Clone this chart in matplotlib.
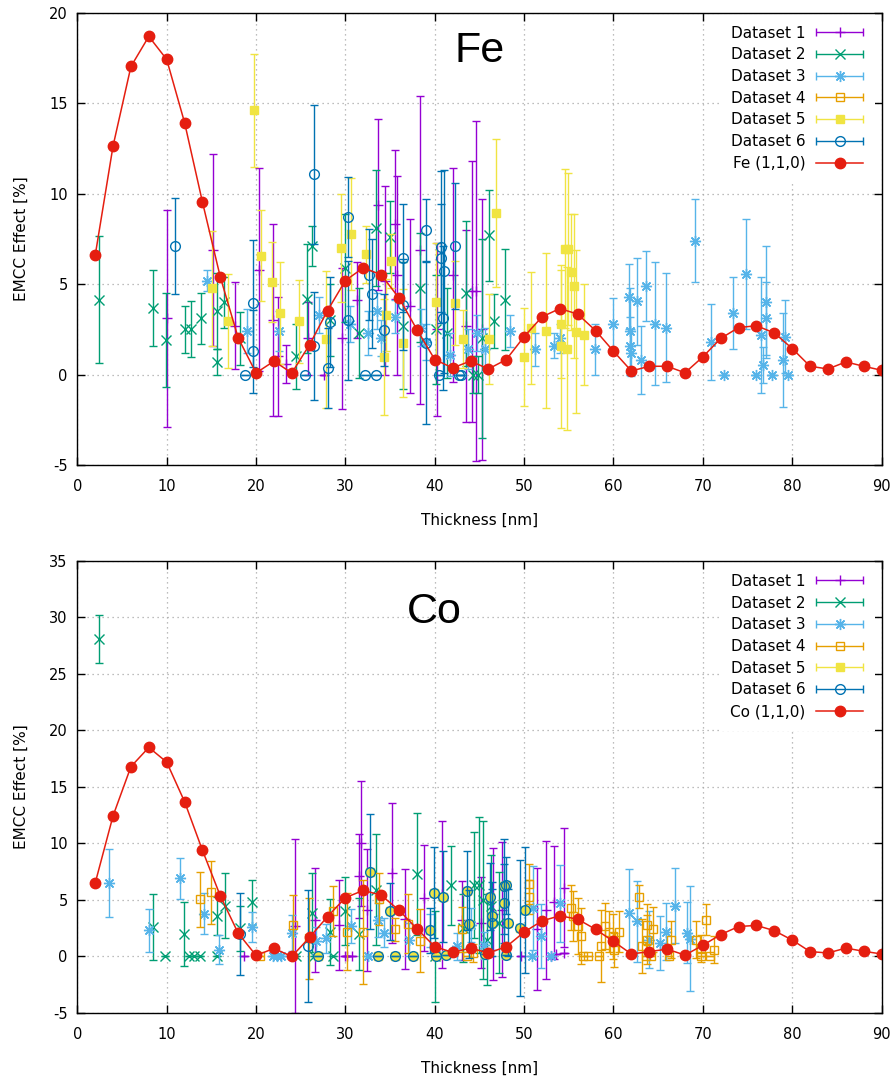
import numpy as np
import matplotlib
matplotlib.use("Agg")
import matplotlib.pyplot as plt
from matplotlib.container import ErrorbarContainer
from matplotlib.legend_handler import HandlerErrorbar

plt.rcParams['font.family'] = ['DejaVu Sans']
plt.rcParams['axes.unicode_minus'] = False

# ---------------- data ----------------
curve_x = [2, 4, 6, 8, 10, 12, 14, 16, 18, 20, 22, 24, 26, 28, 30, 32, 34, 36, 38, 40,
           42, 44, 46, 48, 50, 52, 54, 56, 58, 60, 62, 64, 66, 68, 70, 72, 74, 76, 78, 80,
           82, 84, 86, 88, 90]
fe_curve = [6.59, 12.64, 17.03, 18.69, 17.42, 13.93, 9.54, 5.39, 2.03, 0.09, 0.74, 0.09, 1.66,
            3.54, 5.2, 5.9, 5.52, 4.23, 2.49, 0.83, 0.37, 0.75, 0.31, 0.83, 2.1, 3.19, 3.65,
            3.34, 2.43, 1.29, 0.2, 0.46, 0.46, 0.1, 0.98, 2.0, 2.6, 2.7, 2.3, 1.44, 0.46,
            0.31, 0.7, 0.46, 0.24]
co_curve = [6.5, 12.45, 16.8, 18.5, 17.2, 13.7, 9.4, 5.36, 2.06, 0.09, 0.71, 0.0, 1.7, 3.53,
            5.2, 5.85, 5.42, 4.09, 2.45, 0.87, 0.36, 0.74, 0.31, 0.86, 2.16, 3.15, 3.6, 3.3,
            2.4, 1.33, 0.22, 0.43, 0.65, 0.12, 0.99, 1.94, 2.65, 2.75, 2.28, 1.45, 0.43, 0.31,
            0.74, 0.46, 0.22]

legend_labels = ["Dataset 1", "Dataset 2", "Dataset 3", "Dataset 4", "Dataset 5", "Dataset 6"]

# Fe panel
fe_d1_x = [10.0, 15.2, 17.7, 20.3, 21.9, 22.5, 23.3, 25.8, 27.6, 29.6, 31.3, 33.6, 34.4, 35.5,
           35.8, 37.2, 38.3, 40.2, 42.0, 43.5, 44.2, 44.6, 45.3]
fe_d1_y = [3.1, 6.9, 2.7, 5.8, 3.0, 1.0, 0.6, 2.0, 0.0, 2.0, 4.1, 9.4, 5.2, 8.3, 5.5, 3.8, 6.9,
           2.5, 5.5, 2.7, 4.6, 4.6, 2.5]
fe_d1_e = [6.0, 5.3, 2.4, 5.6, 5.3, 3.3, 1.05, 2.0, 0.0, 3.9, 2.1, 4.7, 5.2, 4.1, 5.5, 4.8, 8.5,
           4.8, 5.9, 5.3, 7.2, 9.4, 7.2]

fe_d2_x = [2.4, 8.5, 9.9, 12.0, 12.7, 13.8, 15.6, 15.6, 16.4, 18.2, 24.5, 25.7, 26.3, 28.3, 30.0,
           31.5, 33.4, 35.0, 36.5, 38.4, 40.1, 41.4, 43.5, 44.3, 44.8, 45.3, 46.1, 46.6, 47.9]
fe_d2_y = [4.15, 3.7, 1.9, 2.5, 2.5, 3.1, 3.5, 0.7, 4.0, 2.0, 1.0, 4.2, 7.1, 3.0, 5.9, 2.3, 8.1,
           7.6, 2.7, 4.8, 2.5, 2.3, 4.5, 0.0, 0.0, 2.0, 7.7, 2.95, 4.15]
fe_d2_e = [3.5, 2.1, 2.6, 1.3, 1.55, 1.4, 2.1, 0.7, 1.4, 1.45, 1.8, 3.0, 1.1, 2.0, 3.0, 2.5, 3.2,
           2.0, 3.5, 3.0, 3.0, 2.5, 4.0, 1.0, 1.0, 5.5, 2.5, 1.5, 2.8]

fe_d3_x = [14.5, 19.0, 22.6, 27.0, 30.5, 32.5, 33.5, 34.0, 35.5, 38.5, 39.0, 41.7, 43.7, 44.7,
           45.6, 48.4, 51.2, 53.3, 54.0, 57.9, 59.9, 61.7, 61.8, 61.9, 62.0, 62.6, 63.1, 63.6,
           64.7, 65.9, 69.1, 70.9, 72.4, 73.4, 74.8, 75.9, 76.5, 76.7, 77.1, 77.1, 77.7, 79.2,
           79.0, 79.5]
fe_d3_y = [5.2, 2.4, 2.4, 3.3, 2.8, 2.3, 3.5, 2.0, 3.2, 2.6, 1.8, 1.1, 1.4, 2.3, 1.4, 2.4, 1.4,
           1.6, 2.0, 1.4, 2.8, 4.3, 2.4, 1.6, 1.2, 4.05, 0.8, 4.9, 2.8, 2.6, 7.4, 1.8, 0.0, 3.4,
           5.55, 0.0, 2.2, 0.55, 4.0, 3.1, 0.0, 2.1, 0.8, 0.0]
fe_d3_e = [0.6, 1.2, 1.1, 1.0, 1.0, 1.2, 1.0, 1.0, 0.9, 1.0, 1.0, 1.2, 1.1, 1.0, 1.2, 0.9, 0.9,
           0.7, 0.8, 1.4, 1.45, 1.8, 2.4, 1.6, 1.3, 2.4, 1.9, 1.95, 3.4, 3.0, 2.3, 2.1, 0.0, 2.0,
           3.05, 0.0, 3.2, 1.0, 3.1, 2.0, 0.0, 2.0, 2.6, 0.0]

fe_d4_x = []
fe_d4_y = []
fe_d4_e = []

fe_d5_x = [15.1, 16.9, 19.8, 20.5, 21.8, 22.7, 24.8, 27.8, 29.5, 30.6, 32.25, 34.3, 34.5, 35.1,
           36.4, 40.1, 42.3, 43.2, 46.1, 46.8, 50.0, 50.8, 52.5, 54.1, 54.1, 54.6, 54.8, 54.9,
           55.2, 55.6, 55.8, 56.7]
fe_d5_y = [4.76, 2.95, 14.6, 6.58, 5.13, 3.4, 2.95, 1.94, 7.0, 7.78, 6.64, 0.98, 3.3, 6.27, 1.75,
           4.0, 3.96, 1.97, 1.97, 8.94, 0.97, 2.58, 2.43, 2.8, 1.57, 6.95, 1.42, 6.95, 5.66, 4.9,
           2.36, 2.2]
fe_d5_e = [3.2, 2.6, 3.1, 2.5, 2.2, 2.8, 2.3, 3.8, 3.0, 3.1, 1.6, 3.2, 2.0, 1.5, 3.0, 3.3, 2.3,
           1.6, 2.5, 4.1, 2.7, 3.1, 4.3, 3.0, 4.5, 4.4, 4.5, 4.2, 3.2, 4.0, 4.5, 2.8]

fe_d6_x = [10.9, 18.8, 19.7, 19.7, 25.5, 26.5, 26.5, 28.0, 28.3, 30.3, 30.3, 32.2, 32.6, 33.0,
           33.4, 34.3, 36.5, 36.5, 39.0, 39.0, 40.5, 40.7, 40.7, 40.9, 41.0, 42.3, 42.7, 42.9]
fe_d6_y = [7.1, 0.0, 3.93, 1.29, 0.0, 1.57, 11.06, 0.37, 2.9, 8.7, 3.0, 0.0, 5.53, 4.48, 0.0,
           2.45, 6.45, 3.87, 7.98, 1.75, 0.0, 7.06, 6.45, 3.13, 5.7, 7.1, 0.0, 0.0]
fe_d6_e = [2.67, 0.0, 3.5, 2.3, 0.0, 3.0, 3.85, 2.2, 2.5, 2.2, 3.3, 0.0, 2.5, 3.0, 0.0, 2.0, 3.0,
           2.5, 1.7, 4.5, 0.0, 4.2, 3.0, 4.0, 5.6, 3.5, 0.0, 0.0]

# Co panel
co_d1_x = [18.7, 24.4, 26.6, 29.3, 29.9, 30.2, 30.7, 31.5, 31.7, 32.4, 35.2, 36.7, 38.8, 40.8,
           43.1, 45.2, 46.5, 47.5, 49.7, 51.4, 52.4, 53.0, 53.3, 53.6, 54.5, 54.5]
co_d1_y = [0.0, 2.7, 3.25, 2.8, 0.0, 0.0, 0.0, 7.1, 10.0, 4.1, 7.4, 3.3, 5.2, 5.5, 3.2, 3.0,
           3.75, 4.15, 0.0, 2.4, 4.1, 0.0, 4.8, 0.2, 0.3, 6.1]
co_d1_e = [0.0, 7.7, 4.6, 4.0, 0.0, 0.0, 0.0, 3.7, 5.5, 5.4, 6.2, 4.4, 4.7, 6.5, 3.5, 4.0, 5.85,
           5.95, 0.0, 5.4, 6.1, 0.0, 5.0, 0.0, 0.0, 5.3]

co_d2_x = [2.4, 8.5, 9.8, 11.9, 12.5, 13.1, 13.7, 15.6, 15.6, 16.5, 18.2, 19.5, 24.5, 26.3, 26.5,
           28.3, 28.6, 30.0, 31.5, 33.4, 38.0, 40.0, 41.8, 43.2, 44.4, 44.9, 45.4, 45.9, 46.3,
           47.2]
co_d2_y = [28.1, 2.6, 0.0, 2.0, 0.0, 0.0, 0.0, 0.0, 3.6, 4.5, 2.5, 4.8, 0.0, 3.87, 0.0, 2.17,
           0.0, 4.0, 2.0, 5.9, 7.3, 0.0, 6.3, 2.5, 6.3, 6.3, 5.0, 1.5, 4.5, 3.0]
co_d2_e = [2.1, 2.9, 0.0, 2.8, 0.0, 0.0, 0.0, 0.0, 1.7, 2.9, 2.0, 2.0, 0.0, 3.5, 0.0, 2.9, 0.0,
           3.0, 3.2, 4.9, 5.4, 4.0, 3.5, 3.0, 4.7, 6.0, 7.0, 4.0, 4.5, 4.5]

co_d3_x = [3.5, 8.0, 11.5, 14.2, 15.8, 19.6, 21.9, 22.4, 22.8, 24.0, 26.7, 27.8, 30.6, 32.5,
           33.6, 34.3, 37.1, 39.5, 42.5, 44.0, 45.5, 50.9, 51.0, 51.9, 53.0, 54.0, 61.7, 62.6,
           64.0, 65.2, 65.9, 66.9, 68.2, 68.6]
co_d3_y = [6.5, 2.3, 6.9, 3.8, 0.6, 2.6, 0.0, 0.0, 0.0, 2.1, 1.4, 1.6, 2.7, 0.0, 3.2, 2.1, 1.5,
           2.3, 0.9, 2.8, 1.0, 0.0, 4.3, 1.8, 0.0, 4.7, 3.85, 3.1, 1.5, 1.2, 2.2, 4.5, 2.1, 1.55]
co_d3_e = [3.0, 1.9, 1.8, 1.8, 1.3, 1.3, 0.0, 0.0, 0.0, 1.6, 1.2, 1.3, 1.5, 0.0, 1.5, 1.3, 1.5,
           1.5, 1.2, 1.5, 1.2, 0.0, 3.7, 2.8, 0.0, 3.4, 3.85, 3.6, 2.5, 2.4, 2.5, 3.3, 2.7, 4.65]

co_d4_x = [13.7, 15.0, 20.4, 24.1, 25.9, 28.6, 30.2, 32.0, 33.8, 35.5, 37.0, 38.3, 43.1, 43.6,
           44.3, 50.6, 50.6, 55.3, 55.5, 56.0, 56.4, 56.6, 57.1, 58.4, 58.6, 59.0, 59.5, 59.9,
           60.1, 60.6, 62.9, 63.2, 63.6, 63.8, 63.8, 64.2, 64.4, 66.2, 66.4, 69.2, 69.8, 69.8,
           70.3, 70.8, 71.3]
co_d4_y = [5.05, 5.67, 0.0, 2.8, 1.6, 4.0, 2.2, 2.2, 5.1, 2.4, 2.9, 1.4, 2.4, 0.0, 0.3, 6.4,
           5.3, 4.3, 3.55, 2.7, 1.8, 0.0, 0.0, 0.0, 0.9, 2.7, 2.2, 1.8, 0.6, 2.2, 5.3, 0.9, 0.0,
           2.8, 1.5, 0.0, 2.4, 0.0, 1.5, 1.5, 0.7, 0.0, 3.25, 0.0, 0.6]
co_d4_e = [2.45, 2.8, 0.0, 2.6, 3.6, 2.2, 3.4, 4.6, 2.3, 1.0, 2.6, 2.8, 2.0, 0.0, 0.8, 1.8, 1.5,
           2.0, 2.2, 2.5, 2.5, 0.0, 0.0, 0.0, 3.2, 2.0, 1.8, 2.0, 1.5, 1.8, 1.0, 2.4, 0.0, 1.8,
           2.2, 0.0, 2.0, 0.0, 1.6, 1.6, 1.2, 0.0, 1.35, 0.0, 1.2]

co_d5_x = [26.9, 32.8, 33.7, 35.0, 35.6, 37.6, 39.5, 39.9, 40.1, 40.9, 41.3, 43.6, 43.8, 45.6,
           46.2, 46.4, 46.4, 47.7, 48.0, 47.7, 48.2, 48.0, 49.5, 50.1]
co_d5_y = [0.0, 7.5, 0.0, 4.0, 0.0, 0.0, 2.3, 5.65, 0.0, 5.3, 0.1, 5.8, 2.85, 0.2, 5.3, 3.55,
           3.0, 6.2, 6.3, 4.7, 3.0, 0.1, 2.5, 4.1]
co_d5_e = None

co_d6_x = [18.2, 25.8, 26.9, 32.8, 33.7, 35.0, 35.6, 37.6, 39.5, 39.9, 40.1, 40.9, 41.3, 43.6,
           43.8, 45.6, 46.2, 46.4, 46.4, 47.7, 48.0, 47.7, 48.2, 48.0, 49.5, 50.1]
co_d6_y = [2.0, 0.95, 0.0, 7.5, 0.0, 4.0, 0.0, 0.0, 2.3, 5.65, 0.0, 5.3, 0.1, 5.8, 2.85, 0.2,
           5.3, 3.55, 3.0, 6.2, 6.3, 4.7, 3.0, 0.1, 2.5, 4.1]
co_d6_e = [3.6, 4.95, 0.0, 5.1, 0.0, 2.5, 0.0, 0.0, 2.0, 4.0, 0.0, 4.0, 0.0, 3.5, 3.0, 0.0, 3.0,
           3.0, 3.0, 4.2, 2.5, 3.5, 3.0, 0.0, 6.0, 5.6]

# ---------------- styles ----------------
colors = ['#9400d3', '#009e73', '#56b4e9', '#e69f00', '#f0e442', '#0072b2']
markers = ['+', 'x', (8, 2, 0), 's', 's', 'o']
msizes = [7, 6.5, 8, 6.0, 6.3, 7.0]
filled = [True, True, True, False, True, False]
curve_color = '#e51e10'
LW = 1.0
CAP = 3.2

fig = plt.figure(figsize=(8.95, 10.79), dpi=100)
ax1 = fig.add_axes([0.0864, 0.5690, 0.8986, 0.4192])
ax2 = fig.add_axes([0.0864, 0.0612, 0.8986, 0.4189])


def draw_panel(ax, sets, curve_y, curve_label, title, title_xy, ylim, yticks):
    ax.set_xlim(0, 90)
    ax.set_ylim(*ylim)
    ax.set_xticks(range(0, 91, 10))
    ax.set_yticks(yticks)
    ax.tick_params(direction='in', top=True, right=True, length=5.5, width=1.0, labelsize=10.5)
    ax.tick_params(axis='x', pad=10)
    ax.tick_params(axis='y', pad=7)
    ax.grid(True, color='#a8a8a8', linestyle=(0, (1, 3)), linewidth=0.9)
    ax.set_axisbelow(True)
    for sp in ax.spines.values():
        sp.set_linewidth(1.0)
        sp.set_zorder(50)

    proxies = []
    for i, (xs, ys, es) in enumerate(sets):
        c = colors[i]
        mfc = c if filled[i] else 'none'
        if len(xs) > 0:
            if es is None:
                ax.plot(xs, ys, linestyle='none', marker=markers[i], ms=msizes[i], mfc=mfc,
                        mec=c, mew=LW, color=c, zorder=3 + i)
            else:
                ax.errorbar(xs, ys, yerr=es, fmt='none', ecolor=c, elinewidth=LW,
                            capsize=CAP, capthick=LW, zorder=3 + i)
                ax.plot(xs, ys, linestyle='none', marker=markers[i], ms=msizes[i], mfc=mfc,
                        mec=c, mew=LW, zorder=3 + i)
        p = ax.errorbar([np.nan], [np.nan], xerr=[1.0], linestyle='none',
                        marker=markers[i], ms=msizes[i], mfc=mfc, mec=c,
                        mew=LW, ecolor=c, elinewidth=LW, capsize=CAP, capthick=LW,
                        label=legend_labels[i])
        proxies.append(p)

    line, = ax.plot(curve_x, curve_y, color=curve_color, lw=1.1, marker='o', ms=7.5,
                    mec=curve_color, mfc=curve_color, zorder=20, label=curve_label)
    proxies.append(line)

    leg = ax.legend(handles=proxies, labels=legend_labels + [curve_label], loc='upper right',
                    bbox_to_anchor=(0.9915, 0.997), borderaxespad=0.0, borderpad=0.75,
                    fontsize=11, handlelength=3.1, handletextpad=0.7, labelspacing=0.44,
                    markerfirst=False, numpoints=1, frameon=True, fancybox=False,
                    handler_map={ErrorbarContainer: HandlerErrorbar(xerr_size=1.55)})
    leg.get_frame().set_facecolor('white')
    leg.get_frame().set_edgecolor('none')
    leg.get_frame().set_alpha(1.0)
    leg.set_zorder(30)

    ax.text(title_xy[0], title_xy[1], title, transform=ax.transAxes, ha='center',
            va='baseline', fontsize=31, family='Liberation Sans', zorder=31)

    ax.set_xlabel('Thickness [nm]', fontsize=11)
    ax.set_ylabel('EMCC Effect [%]', fontsize=11)
    ax.xaxis.set_label_coords(0.5, -0.105)
    ax.yaxis.set_label_coords(-0.060, 0.5)


fe_sets = [(fe_d1_x, fe_d1_y, fe_d1_e), (fe_d2_x, fe_d2_y, fe_d2_e), (fe_d3_x, fe_d3_y, fe_d3_e),
           (fe_d4_x, fe_d4_y, fe_d4_e), (fe_d5_x, fe_d5_y, fe_d5_e), (fe_d6_x, fe_d6_y, fe_d6_e)]
co_sets = [(co_d1_x, co_d1_y, co_d1_e), (co_d2_x, co_d2_y, co_d2_e), (co_d3_x, co_d3_y, co_d3_e),
           (co_d4_x, co_d4_y, co_d4_e), (co_d5_x, co_d5_y, co_d5_e), (co_d6_x, co_d6_y, co_d6_e)]

draw_panel(ax1, fe_sets, fe_curve, 'Fe (1,1,0)', 'Fe', (0.5008, 0.8917), (-5, 20),
           range(-5, 21, 5))
draw_panel(ax2, co_sets, co_curve, 'Co (1,1,0)', 'Co', (0.4435, 0.8628), (-5, 35),
           range(-5, 36, 5))

fig.savefig('out.png', dpi=100)
